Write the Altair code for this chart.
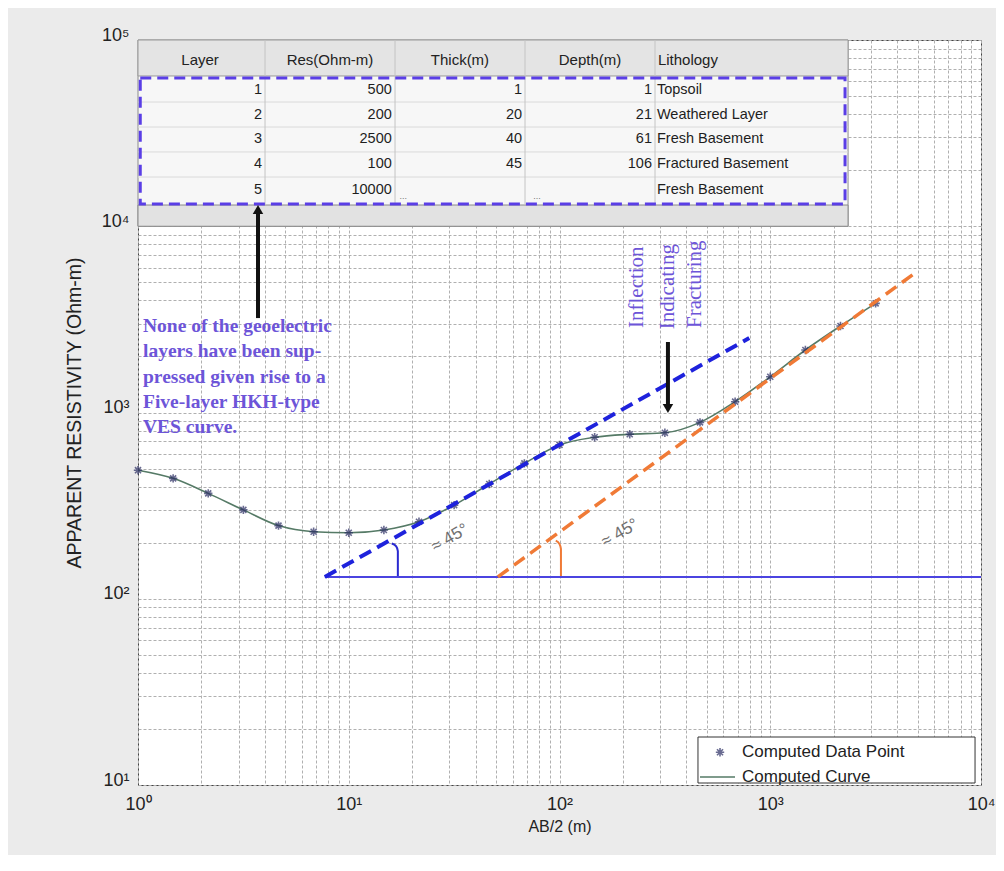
import altair as alt
import pandas as pd

# ---------------- data ----------------
ab2 = [1, 1.468, 2.154, 3.162, 4.642, 6.813, 10, 14.68, 21.54, 31.62, 46.42,
       68.13, 100, 146.8, 215.4, 316.2, 464.2, 681.3, 1000, 1468, 2154, 3162]
rho = [490, 443, 368, 300, 247, 229, 226, 234, 259, 318, 413,
       533, 670, 736, 764, 778, 885, 1143, 1556, 2166, 2913, 3855]

headers = ["Layer", "Res(Ohm-m)", "Thick(m)", "Depth(m)", "Lithology"]
layer_no = ["1", "2", "3", "4", "5"]
res_vals = ["500", "200", "2500", "100", "10000"]
thick_vals = ["1", "20", "40", "45", ""]
depth_vals = ["1", "21", "61", "106", ""]
litho_vals = ["Topsoil", "Weathered Layer", "Fresh Basement",
              "Fractured Basement", "Fresh Basement"]
blank_marks = ["...", "..."]

# asymptote / guide lines (AB/2, resistivity)
blue_x, blue_y = [7.7, 795], [131, 2512]
orange_x, orange_y = [51, 4955], [131, 5700]
base_x, base_y = [7.7, 10000], [131, 131]
blue_arc_x, blue_arc_y = [17.1, 17.1, 16.8, 16.0], [131, 180, 191, 198]
orange_arc_x, orange_arc_y = [101.6, 101.6, 100.0, 96.0], [131, 185, 197, 205]

legend_labels = ["Computed Data Point", "Computed Curve"]

# ---------------- layout (data units on the log axes) ----------------
col_edges = [1, 4.006, 16.58, 68.6, 283.9, 2340]
row_lines = [46450, 34100, 25060, 18380]
row_y = [53900, 39800, 29250, 21500, 15670]
header_y = 78100
header_bottom = 64100
strip_top = 13000
hdr_x = [1.97, 8.15, 33.7, 139.6, 293]
hdr_align = ["center", "center", "center", "center", "left"]
val_x = [3.88, 16.0, 66.4, 274.7, 290]
val_align = ["right", "right", "right", "right", "left"]
blank_x = [17.4, 75.0]
blank_y = 14600

STAR = "M-1,0L1,0M0,-1L0,1M-0.72,-0.72L0.72,0.72M-0.72,0.72L0.72,-0.72"
FONT = "Liberation Sans"
SERIF = "Liberation Serif"
PURPLE = "#6d55d8"

xvals = [m * 10 ** k for k in range(4) for m in range(1, 10)] + [10000]
yvals = [m * 10 ** k for k in range(1, 5) for m in range(1, 10)] + [100000]

xscale = alt.Scale(type="log", domain=[1, 10000], nice=False)
yscale = alt.Scale(type="log", domain=[10, 100000], nice=False)

xaxis = alt.Axis(
    title="AB/2 (m)", values=xvals, grid=True, ticks=False, domain=False,
    labelExpr="datum.value==1?'10⁰':datum.value==10?'10¹':datum.value==100?'10²':"
              "datum.value==1000?'10³':datum.value==10000?'10⁴':''",
    labelOverlap=False, labelFlush=False, labelFont=FONT, labelFontSize=18,
    labelColor="#222", labelPadding=10, titleFont=FONT, titleFontSize=16,
    titleFontWeight="normal", titleColor="#222", titlePadding=5,
    gridColor="#b0b0b0", gridDash=[3, 2],
)
yaxis = alt.Axis(
    title="APPARENT RESISTIVITY (Ohm-m)", values=yvals, grid=True, ticks=False,
    domain=False,
    labelExpr="datum.value==10?'10¹':datum.value==100?'10²':datum.value==1000?'10³':"
              "datum.value==10000?'10⁴':datum.value==100000?'10⁵':''",
    labelOverlap=False, labelFlush=False, labelFont=FONT, labelFontSize=18,
    labelColor="#222", labelPadding=9, labelOffset=-5, titleFont=FONT,
    titleFontSize=19.5, titleFontWeight="normal", titleColor="#222",
    titlePadding=17, gridColor="#b0b0b0", gridDash=[3, 2],
)


def X(f):
    return alt.X(f, type="quantitative", scale=xscale, axis=xaxis)


def Y(f):
    return alt.Y(f, type="quantitative", scale=yscale, axis=yaxis)


def seg(xs, ys, color, width, dash=None, interp="linear"):
    df = pd.DataFrame({"x": xs, "y": ys, "o": list(range(len(xs)))})
    kw = dict(color=color, strokeWidth=width, interpolate=interp, clip=True)
    if dash:
        kw["strokeDash"] = dash
    return alt.Chart(df).mark_line(**kw).encode(x=X("x"), y=Y("y"), order="o:Q")


def box(x, x2, y, y2, **kw):
    df = pd.DataFrame({"x": [x], "x2": [x2], "y": [y], "y2": [y2]})
    return alt.Chart(df).mark_rect(**kw).encode(
        x=X("x"), x2=alt.X2("x2"), y=Y("y"), y2=alt.Y2("y2"))


curve_df = pd.DataFrame({"x": ab2, "y": rho})

curve = alt.Chart(curve_df).mark_line(
    color="#557a66", strokeWidth=1.6, interpolate="monotone"
).encode(x=X("x"), y=Y("y"))
points = alt.Chart(curve_df).mark_point(
    shape=STAR, size=70, filled=False, stroke="#2a2d63", strokeWidth=1.6
).encode(x=X("x"), y=Y("y"))

blue_line = seg(blue_x, blue_y, "#1e22dc", 4, [13, 7])
orange_line = seg(orange_x, orange_y, "#f07a36", 3.5, [13, 7])
base_line = seg(base_x, base_y, "#4b44e0", 2)
blue_arc = seg(blue_arc_x, blue_arc_y, "#2a2ad0", 2, interp="monotone")
orange_arc = seg(orange_arc_x, orange_arc_y, "#f07a36", 2, interp="monotone")

angle_df = pd.DataFrame({"x": [30.2, 193.7], "y": [212, 225.4], "t": ["≈ 45°", "≈ 45°"]})
angle_txt = alt.Chart(angle_df).mark_text(
    font=FONT, fontSize=17, color="#707070", angle=330
).encode(x=X("x"), y=Y("y"), text="t:N")

# --- table ---
table_bg = box(col_edges[0], col_edges[-1], 10000, 100000,
               fill="#f7f7f7", stroke="#8a8a8a", strokeWidth=1)
header_bg = box(col_edges[0], col_edges[-1], header_bottom, 100000,
                fill="#e4e4e4", stroke="#9a9a9a", strokeWidth=1)
strip_bg = box(col_edges[0], col_edges[-1], 10000, strip_top,
               fill="#e2e2e2", stroke="#8a8a8a", strokeWidth=1)

hl_df = pd.DataFrame({"y": row_lines, "xa": [col_edges[0]] * len(row_lines),
                      "xb": [col_edges[-1]] * len(row_lines)})
hlines = alt.Chart(hl_df).mark_rule(color="#dadada", strokeWidth=1).encode(
    y=Y("y"), x=X("xa"), x2=alt.X2("xb"))
vl_df = pd.DataFrame({"x": col_edges[1:-1], "ya": [strip_top] * 4, "yb": [100000] * 4})
vlines = alt.Chart(vl_df).mark_rule(color="#c4c4c4", strokeWidth=1).encode(
    x=X("x"), y=Y("ya"), y2=alt.Y2("yb"))

hdr_df = pd.DataFrame({"x": hdr_x, "y": [header_y] * 5, "t": headers, "a": hdr_align})
hdr_parts = []
for al in ["center", "left"]:
    hdr_parts.append(alt.Chart(hdr_df[hdr_df.a == al]).mark_text(
        font=FONT, fontSize=15, color="#222", align=al, baseline="middle"
    ).encode(x=X("x"), y=Y("y"), text="t:N"))

cols = [layer_no, res_vals, thick_vals, depth_vals, litho_vals]
rows = []
for ci, col in enumerate(cols):
    for ri, v in enumerate(col):
        rows.append({"x": val_x[ci], "y": row_y[ri], "t": v, "a": val_align[ci]})
cell_df = pd.DataFrame(rows)
cell_parts = []
for al in ["right", "left"]:
    cell_parts.append(alt.Chart(cell_df[cell_df.a == al]).mark_text(
        font=FONT, fontSize=14.5, color="#1e1e1e", align=al, baseline="middle"
    ).encode(x=X("x"), y=Y("y"), text="t:N"))
blank_txt = alt.Chart(pd.DataFrame({"x": blank_x, "y": [blank_y] * 2,
                                    "t": blank_marks})).mark_text(
    font=FONT, fontSize=9, color="#777", align="left", baseline="middle"
).encode(x=X("x"), y=Y("y"), text="t:N")

dash_box = box(1.025, 2264, 13150, 62500, fill="white", fillOpacity=0,
               stroke="#5a3ee6", strokeWidth=3, strokeDash=[11, 6])

# --- annotations ---
note_df = pd.DataFrame({"x": [1.056], "y": [3256],
                        "t": ["None of the geoelectric\nlayers have been sup-\n"
                              "pressed given rise to a\nFive-layer HKH-type\nVES curve."]})
note = alt.Chart(note_df).mark_text(
    font=SERIF, fontSize=19.5, fontWeight="bold", color=PURPLE, align="left",
    baseline="top", lineBreak="\n", lineHeight=25.3
).encode(x=X("x"), y=Y("y"), text="t:N")

infl_df = pd.DataFrame({"x": [233.3, 327, 439.5], "y": [2842, 2800, 2842],
                        "t": ["Inflection", "Indicating", "Fracturing"]})
infl = alt.Chart(infl_df).mark_text(
    font=SERIF, fontSize=21, color=PURPLE, angle=270, align="left", baseline="middle"
).encode(x=X("x"), y=Y("y"), text="t:N")

arrow_up = seg([3.71, 3.71], [3214, 11800], "#111", 4)
arrow_up_head = alt.Chart(pd.DataFrame({"x": [3.71], "y": [12300]})).mark_point(
    shape="triangle-up", size=110, filled=True, color="#111", opacity=1
).encode(x=X("x"), y=Y("y"))
arrow_dn = seg([327, 327], [2390, 1110], "#111", 4)
arrow_dn_head = alt.Chart(pd.DataFrame({"x": [327], "y": [1050]})).mark_point(
    shape="triangle-down", size=110, filled=True, color="#111", opacity=1
).encode(x=X("x"), y=Y("y"))

# --- legend (drawn in data units) ---
leg_box = box(454, 9370, 10.25, 18.1, fill="white", stroke="#333", strokeWidth=1)
leg_star = alt.Chart(pd.DataFrame({"x": [577.6], "y": [15.0]})).mark_point(
    shape=STAR, size=70, filled=False, stroke="#2a2d63", strokeWidth=1.6
).encode(x=X("x"), y=Y("y"))
leg_line = seg([464, 680.5], [11.04, 11.04], "#557a66", 1.6)
leg_txt = alt.Chart(pd.DataFrame({"x": [734.5, 734.5], "y": [15.0, 11.04],
                                  "t": legend_labels})).mark_text(
    font=FONT, fontSize=17, color="#222", align="left", baseline="middle"
).encode(x=X("x"), y=Y("y"), text="t:N")

chart = alt.layer(
    blue_arc, orange_arc, base_line, curve, points, blue_line, orange_line,
    angle_txt, note, infl, arrow_dn, arrow_dn_head,
    table_bg, header_bg, strip_bg, hlines, vlines, *hdr_parts, *cell_parts,
    blank_txt, dash_box, arrow_up, arrow_up_head,
    leg_box, leg_star, leg_line, leg_txt,
).properties(
    width=843, height=745,
    autosize=alt.AutoSizeParams(type="none"),
    padding={"left": 130, "top": 32, "right": 15, "bottom": 70},
    background="#ebebeb",
).configure_view(fill="white", stroke="#444", strokeWidth=1)

chart.save("out.html", embed_options={"renderer": "svg", "actions": False})
